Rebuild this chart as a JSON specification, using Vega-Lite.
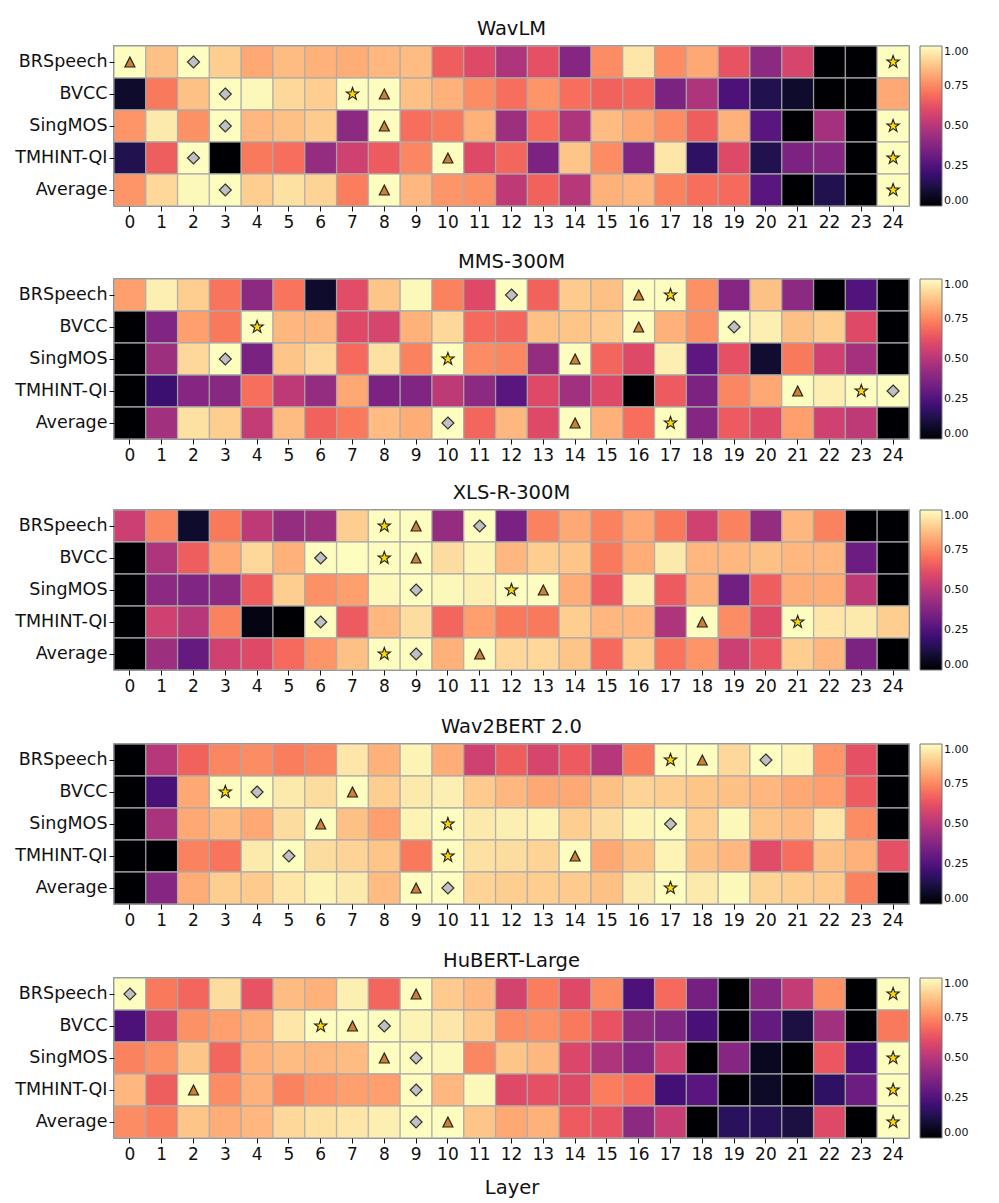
{"$schema":"https://vega.github.io/schema/vega-lite/v6.json","background":"white","padding":{"left":14,"top":18,"right":8,"bottom":2},"spacing":18,"resolve":{"scale":{"color":"independent"}},"config":{"font":"DejaVu Sans","view":{"stroke":"#555555","strokeWidth":1.5},"title":{"fontSize":19.5,"fontWeight":"normal","color":"#111111","offset":6},"axis":{"grid":false,"domain":false,"tickColor":"#111111","tickSize":5,"labelColor":"#111111","labelFontSize":17.5,"titleFontSize":19.5,"titleFontWeight":"normal","titleColor":"#111111"},"axisX":{"labelPadding":3,"labelFontSize":17},"axisY":{"labelPadding":2},"legend":{"gradientLength":160,"gradientThickness":22,"gradientStrokeColor":"#777777","gradientStrokeWidth":1,"labelFontSize":11,"labelColor":"#111111","labelBaseline":"middle","offset":11,"padding":0,"labelOffset":8}},
"datasets":{
"medals":[
{"model":"WavLM","metric":"BRSpeech","layer":0,"medal":"bronze"},{"model":"WavLM","metric":"BRSpeech","layer":2,"medal":"silver"},{"model":"WavLM","metric":"BRSpeech","layer":24,"medal":"gold"},
{"model":"WavLM","metric":"BVCC","layer":3,"medal":"silver"},{"model":"WavLM","metric":"BVCC","layer":7,"medal":"gold"},{"model":"WavLM","metric":"BVCC","layer":8,"medal":"bronze"},
{"model":"WavLM","metric":"SingMOS","layer":3,"medal":"silver"},{"model":"WavLM","metric":"SingMOS","layer":8,"medal":"bronze"},{"model":"WavLM","metric":"SingMOS","layer":24,"medal":"gold"},
{"model":"WavLM","metric":"TMHINT-QI","layer":2,"medal":"silver"},{"model":"WavLM","metric":"TMHINT-QI","layer":10,"medal":"bronze"},{"model":"WavLM","metric":"TMHINT-QI","layer":24,"medal":"gold"},
{"model":"WavLM","metric":"Average","layer":3,"medal":"silver"},{"model":"WavLM","metric":"Average","layer":8,"medal":"bronze"},{"model":"WavLM","metric":"Average","layer":24,"medal":"gold"},
{"model":"MMS-300M","metric":"BRSpeech","layer":12,"medal":"silver"},{"model":"MMS-300M","metric":"BRSpeech","layer":16,"medal":"bronze"},{"model":"MMS-300M","metric":"BRSpeech","layer":17,"medal":"gold"},
{"model":"MMS-300M","metric":"BVCC","layer":4,"medal":"gold"},{"model":"MMS-300M","metric":"BVCC","layer":16,"medal":"bronze"},{"model":"MMS-300M","metric":"BVCC","layer":19,"medal":"silver"},
{"model":"MMS-300M","metric":"SingMOS","layer":3,"medal":"silver"},{"model":"MMS-300M","metric":"SingMOS","layer":10,"medal":"gold"},{"model":"MMS-300M","metric":"SingMOS","layer":14,"medal":"bronze"},
{"model":"MMS-300M","metric":"TMHINT-QI","layer":21,"medal":"bronze"},{"model":"MMS-300M","metric":"TMHINT-QI","layer":23,"medal":"gold"},{"model":"MMS-300M","metric":"TMHINT-QI","layer":24,"medal":"silver"},
{"model":"MMS-300M","metric":"Average","layer":10,"medal":"silver"},{"model":"MMS-300M","metric":"Average","layer":14,"medal":"bronze"},{"model":"MMS-300M","metric":"Average","layer":17,"medal":"gold"},
{"model":"XLS-R-300M","metric":"BRSpeech","layer":8,"medal":"gold"},{"model":"XLS-R-300M","metric":"BRSpeech","layer":9,"medal":"bronze"},{"model":"XLS-R-300M","metric":"BRSpeech","layer":11,"medal":"silver"},
{"model":"XLS-R-300M","metric":"BVCC","layer":6,"medal":"silver"},{"model":"XLS-R-300M","metric":"BVCC","layer":8,"medal":"gold"},{"model":"XLS-R-300M","metric":"BVCC","layer":9,"medal":"bronze"},
{"model":"XLS-R-300M","metric":"SingMOS","layer":9,"medal":"silver"},{"model":"XLS-R-300M","metric":"SingMOS","layer":12,"medal":"gold"},{"model":"XLS-R-300M","metric":"SingMOS","layer":13,"medal":"bronze"},
{"model":"XLS-R-300M","metric":"TMHINT-QI","layer":6,"medal":"silver"},{"model":"XLS-R-300M","metric":"TMHINT-QI","layer":18,"medal":"bronze"},{"model":"XLS-R-300M","metric":"TMHINT-QI","layer":21,"medal":"gold"},
{"model":"XLS-R-300M","metric":"Average","layer":8,"medal":"gold"},{"model":"XLS-R-300M","metric":"Average","layer":9,"medal":"silver"},{"model":"XLS-R-300M","metric":"Average","layer":11,"medal":"bronze"},
{"model":"Wav2BERT 2.0","metric":"BRSpeech","layer":17,"medal":"gold"},{"model":"Wav2BERT 2.0","metric":"BRSpeech","layer":18,"medal":"bronze"},{"model":"Wav2BERT 2.0","metric":"BRSpeech","layer":20,"medal":"silver"},
{"model":"Wav2BERT 2.0","metric":"BVCC","layer":3,"medal":"gold"},{"model":"Wav2BERT 2.0","metric":"BVCC","layer":4,"medal":"silver"},{"model":"Wav2BERT 2.0","metric":"BVCC","layer":7,"medal":"bronze"},
{"model":"Wav2BERT 2.0","metric":"SingMOS","layer":6,"medal":"bronze"},{"model":"Wav2BERT 2.0","metric":"SingMOS","layer":10,"medal":"gold"},{"model":"Wav2BERT 2.0","metric":"SingMOS","layer":17,"medal":"silver"},
{"model":"Wav2BERT 2.0","metric":"TMHINT-QI","layer":5,"medal":"silver"},{"model":"Wav2BERT 2.0","metric":"TMHINT-QI","layer":10,"medal":"gold"},{"model":"Wav2BERT 2.0","metric":"TMHINT-QI","layer":14,"medal":"bronze"},
{"model":"Wav2BERT 2.0","metric":"Average","layer":9,"medal":"bronze"},{"model":"Wav2BERT 2.0","metric":"Average","layer":10,"medal":"silver"},{"model":"Wav2BERT 2.0","metric":"Average","layer":17,"medal":"gold"},
{"model":"HuBERT-Large","metric":"BRSpeech","layer":0,"medal":"silver"},{"model":"HuBERT-Large","metric":"BRSpeech","layer":9,"medal":"bronze"},{"model":"HuBERT-Large","metric":"BRSpeech","layer":24,"medal":"gold"},
{"model":"HuBERT-Large","metric":"BVCC","layer":6,"medal":"gold"},{"model":"HuBERT-Large","metric":"BVCC","layer":7,"medal":"bronze"},{"model":"HuBERT-Large","metric":"BVCC","layer":8,"medal":"silver"},
{"model":"HuBERT-Large","metric":"SingMOS","layer":8,"medal":"bronze"},{"model":"HuBERT-Large","metric":"SingMOS","layer":9,"medal":"silver"},{"model":"HuBERT-Large","metric":"SingMOS","layer":24,"medal":"gold"},
{"model":"HuBERT-Large","metric":"TMHINT-QI","layer":2,"medal":"bronze"},{"model":"HuBERT-Large","metric":"TMHINT-QI","layer":9,"medal":"silver"},{"model":"HuBERT-Large","metric":"TMHINT-QI","layer":24,"medal":"gold"},
{"model":"HuBERT-Large","metric":"Average","layer":9,"medal":"silver"},{"model":"HuBERT-Large","metric":"Average","layer":10,"medal":"bronze"},{"model":"HuBERT-Large","metric":"Average","layer":24,"medal":"gold"}
],
"wavlm":[
{"layer":0,"metric":"BRSpeech","score":1},{"layer":1,"metric":"BRSpeech","score":0.87},{"layer":2,"metric":"BRSpeech","score":1},{"layer":3,"metric":"BRSpeech","score":0.9},{"layer":4,"metric":"BRSpeech","score":0.82},{"layer":5,"metric":"BRSpeech","score":0.86},{"layer":6,"metric":"BRSpeech","score":0.84},{"layer":7,"metric":"BRSpeech","score":0.83},{"layer":8,"metric":"BRSpeech","score":0.85},{"layer":9,"metric":"BRSpeech","score":0.86},{"layer":10,"metric":"BRSpeech","score":0.66},{"layer":11,"metric":"BRSpeech","score":0.6},{"layer":12,"metric":"BRSpeech","score":0.48},{"layer":13,"metric":"BRSpeech","score":0.62},{"layer":14,"metric":"BRSpeech","score":0.38},{"layer":15,"metric":"BRSpeech","score":0.76},{"layer":16,"metric":"BRSpeech","score":0.95},{"layer":17,"metric":"BRSpeech","score":0.76},{"layer":18,"metric":"BRSpeech","score":0.82},{"layer":19,"metric":"BRSpeech","score":0.63},{"layer":20,"metric":"BRSpeech","score":0.4},{"layer":21,"metric":"BRSpeech","score":0.58},{"layer":22,"metric":"BRSpeech","score":0},{"layer":23,"metric":"BRSpeech","score":0},{"layer":24,"metric":"BRSpeech","score":1},
{"layer":0,"metric":"BVCC","score":0.08},{"layer":1,"metric":"BVCC","score":0.72},{"layer":2,"metric":"BVCC","score":0.87},{"layer":3,"metric":"BVCC","score":1},{"layer":4,"metric":"BVCC","score":0.99},{"layer":5,"metric":"BVCC","score":0.92},{"layer":6,"metric":"BVCC","score":0.9},{"layer":7,"metric":"BVCC","score":1},{"layer":8,"metric":"BVCC","score":1},{"layer":9,"metric":"BVCC","score":0.87},{"layer":10,"metric":"BVCC","score":0.84},{"layer":11,"metric":"BVCC","score":0.76},{"layer":12,"metric":"BVCC","score":0.7},{"layer":13,"metric":"BVCC","score":0.78},{"layer":14,"metric":"BVCC","score":0.7},{"layer":15,"metric":"BVCC","score":0.67},{"layer":16,"metric":"BVCC","score":0.68},{"layer":17,"metric":"BVCC","score":0.36},{"layer":18,"metric":"BVCC","score":0.48},{"layer":19,"metric":"BVCC","score":0.24},{"layer":20,"metric":"BVCC","score":0.14},{"layer":21,"metric":"BVCC","score":0.08},{"layer":22,"metric":"BVCC","score":0},{"layer":23,"metric":"BVCC","score":0},{"layer":24,"metric":"BVCC","score":0.82},
{"layer":0,"metric":"SingMOS","score":0.78},{"layer":1,"metric":"SingMOS","score":0.96},{"layer":2,"metric":"SingMOS","score":0.77},{"layer":3,"metric":"SingMOS","score":1},{"layer":4,"metric":"SingMOS","score":0.85},{"layer":5,"metric":"SingMOS","score":0.87},{"layer":6,"metric":"SingMOS","score":0.89},{"layer":7,"metric":"SingMOS","score":0.4},{"layer":8,"metric":"SingMOS","score":1},{"layer":9,"metric":"SingMOS","score":0.7},{"layer":10,"metric":"SingMOS","score":0.72},{"layer":11,"metric":"SingMOS","score":0.84},{"layer":12,"metric":"SingMOS","score":0.44},{"layer":13,"metric":"SingMOS","score":0.7},{"layer":14,"metric":"SingMOS","score":0.48},{"layer":15,"metric":"SingMOS","score":0.86},{"layer":16,"metric":"SingMOS","score":0.82},{"layer":17,"metric":"SingMOS","score":0.76},{"layer":18,"metric":"SingMOS","score":0.66},{"layer":19,"metric":"SingMOS","score":0.84},{"layer":20,"metric":"SingMOS","score":0.27},{"layer":21,"metric":"SingMOS","score":0},{"layer":22,"metric":"SingMOS","score":0.46},{"layer":23,"metric":"SingMOS","score":0},{"layer":24,"metric":"SingMOS","score":1},
{"layer":0,"metric":"TMHINT-QI","score":0.14},{"layer":1,"metric":"TMHINT-QI","score":0.66},{"layer":2,"metric":"TMHINT-QI","score":1},{"layer":3,"metric":"TMHINT-QI","score":0},{"layer":4,"metric":"TMHINT-QI","score":0.72},{"layer":5,"metric":"TMHINT-QI","score":0.7},{"layer":6,"metric":"TMHINT-QI","score":0.42},{"layer":7,"metric":"TMHINT-QI","score":0.56},{"layer":8,"metric":"TMHINT-QI","score":0.65},{"layer":9,"metric":"TMHINT-QI","score":0.75},{"layer":10,"metric":"TMHINT-QI","score":1},{"layer":11,"metric":"TMHINT-QI","score":0.6},{"layer":12,"metric":"TMHINT-QI","score":0.68},{"layer":13,"metric":"TMHINT-QI","score":0.36},{"layer":14,"metric":"TMHINT-QI","score":0.88},{"layer":15,"metric":"TMHINT-QI","score":0.76},{"layer":16,"metric":"TMHINT-QI","score":0.37},{"layer":17,"metric":"TMHINT-QI","score":0.95},{"layer":18,"metric":"TMHINT-QI","score":0.17},{"layer":19,"metric":"TMHINT-QI","score":0.6},{"layer":20,"metric":"TMHINT-QI","score":0.14},{"layer":21,"metric":"TMHINT-QI","score":0.36},{"layer":22,"metric":"TMHINT-QI","score":0.38},{"layer":23,"metric":"TMHINT-QI","score":0},{"layer":24,"metric":"TMHINT-QI","score":1},
{"layer":0,"metric":"Average","score":0.78},{"layer":1,"metric":"Average","score":0.92},{"layer":2,"metric":"Average","score":0.99},{"layer":3,"metric":"Average","score":1},{"layer":4,"metric":"Average","score":0.9},{"layer":5,"metric":"Average","score":0.94},{"layer":6,"metric":"Average","score":0.91},{"layer":7,"metric":"Average","score":0.73},{"layer":8,"metric":"Average","score":1},{"layer":9,"metric":"Average","score":0.85},{"layer":10,"metric":"Average","score":0.78},{"layer":11,"metric":"Average","score":0.77},{"layer":12,"metric":"Average","score":0.52},{"layer":13,"metric":"Average","score":0.67},{"layer":14,"metric":"Average","score":0.5},{"layer":15,"metric":"Average","score":0.84},{"layer":16,"metric":"Average","score":0.85},{"layer":17,"metric":"Average","score":0.74},{"layer":18,"metric":"Average","score":0.7},{"layer":19,"metric":"Average","score":0.69},{"layer":20,"metric":"Average","score":0.27},{"layer":21,"metric":"Average","score":0},{"layer":22,"metric":"Average","score":0.14},{"layer":23,"metric":"Average","score":0},{"layer":24,"metric":"Average","score":1}
],
"mms":[
{"layer":0,"metric":"BRSpeech","score":0.8},{"layer":1,"metric":"BRSpeech","score":0.97},{"layer":2,"metric":"BRSpeech","score":0.9},{"layer":3,"metric":"BRSpeech","score":0.71},{"layer":4,"metric":"BRSpeech","score":0.4},{"layer":5,"metric":"BRSpeech","score":0.71},{"layer":6,"metric":"BRSpeech","score":0.08},{"layer":7,"metric":"BRSpeech","score":0.61},{"layer":8,"metric":"BRSpeech","score":0.88},{"layer":9,"metric":"BRSpeech","score":0.99},{"layer":10,"metric":"BRSpeech","score":0.74},{"layer":11,"metric":"BRSpeech","score":0.6},{"layer":12,"metric":"BRSpeech","score":1},{"layer":13,"metric":"BRSpeech","score":0.67},{"layer":14,"metric":"BRSpeech","score":0.89},{"layer":15,"metric":"BRSpeech","score":0.87},{"layer":16,"metric":"BRSpeech","score":1},{"layer":17,"metric":"BRSpeech","score":1},{"layer":18,"metric":"BRSpeech","score":0.77},{"layer":19,"metric":"BRSpeech","score":0.38},{"layer":20,"metric":"BRSpeech","score":0.87},{"layer":21,"metric":"BRSpeech","score":0.4},{"layer":22,"metric":"BRSpeech","score":0},{"layer":23,"metric":"BRSpeech","score":0.25},{"layer":24,"metric":"BRSpeech","score":0},
{"layer":0,"metric":"BVCC","score":0},{"layer":1,"metric":"BVCC","score":0.37},{"layer":2,"metric":"BVCC","score":0.8},{"layer":3,"metric":"BVCC","score":0.72},{"layer":4,"metric":"BVCC","score":1},{"layer":5,"metric":"BVCC","score":0.85},{"layer":6,"metric":"BVCC","score":0.85},{"layer":7,"metric":"BVCC","score":0.6},{"layer":8,"metric":"BVCC","score":0.58},{"layer":9,"metric":"BVCC","score":0.84},{"layer":10,"metric":"BVCC","score":0.92},{"layer":11,"metric":"BVCC","score":0.69},{"layer":12,"metric":"BVCC","score":0.68},{"layer":13,"metric":"BVCC","score":0.87},{"layer":14,"metric":"BVCC","score":0.88},{"layer":15,"metric":"BVCC","score":0.89},{"layer":16,"metric":"BVCC","score":1},{"layer":17,"metric":"BVCC","score":0.84},{"layer":18,"metric":"BVCC","score":0.77},{"layer":19,"metric":"BVCC","score":1},{"layer":20,"metric":"BVCC","score":0.97},{"layer":21,"metric":"BVCC","score":0.87},{"layer":22,"metric":"BVCC","score":0.9},{"layer":23,"metric":"BVCC","score":0.6},{"layer":24,"metric":"BVCC","score":0},
{"layer":0,"metric":"SingMOS","score":0},{"layer":1,"metric":"SingMOS","score":0.44},{"layer":2,"metric":"SingMOS","score":0.92},{"layer":3,"metric":"SingMOS","score":1},{"layer":4,"metric":"SingMOS","score":0.35},{"layer":5,"metric":"SingMOS","score":0.88},{"layer":6,"metric":"SingMOS","score":0.92},{"layer":7,"metric":"SingMOS","score":0.69},{"layer":8,"metric":"SingMOS","score":0.94},{"layer":9,"metric":"SingMOS","score":0.74},{"layer":10,"metric":"SingMOS","score":1},{"layer":11,"metric":"SingMOS","score":0.76},{"layer":12,"metric":"SingMOS","score":0.75},{"layer":13,"metric":"SingMOS","score":0.42},{"layer":14,"metric":"SingMOS","score":1},{"layer":15,"metric":"SingMOS","score":0.68},{"layer":16,"metric":"SingMOS","score":0.6},{"layer":17,"metric":"SingMOS","score":0.97},{"layer":18,"metric":"SingMOS","score":0.28},{"layer":19,"metric":"SingMOS","score":0.62},{"layer":20,"metric":"SingMOS","score":0.09},{"layer":21,"metric":"SingMOS","score":0.72},{"layer":22,"metric":"SingMOS","score":0.56},{"layer":23,"metric":"SingMOS","score":0.46},{"layer":24,"metric":"SingMOS","score":0},
{"layer":0,"metric":"TMHINT-QI","score":0},{"layer":1,"metric":"TMHINT-QI","score":0.2},{"layer":2,"metric":"TMHINT-QI","score":0.38},{"layer":3,"metric":"TMHINT-QI","score":0.39},{"layer":4,"metric":"TMHINT-QI","score":0.7},{"layer":5,"metric":"TMHINT-QI","score":0.52},{"layer":6,"metric":"TMHINT-QI","score":0.42},{"layer":7,"metric":"TMHINT-QI","score":0.82},{"layer":8,"metric":"TMHINT-QI","score":0.36},{"layer":9,"metric":"TMHINT-QI","score":0.37},{"layer":10,"metric":"TMHINT-QI","score":0.52},{"layer":11,"metric":"TMHINT-QI","score":0.4},{"layer":12,"metric":"TMHINT-QI","score":0.27},{"layer":13,"metric":"TMHINT-QI","score":0.6},{"layer":14,"metric":"TMHINT-QI","score":0.45},{"layer":15,"metric":"TMHINT-QI","score":0.6},{"layer":16,"metric":"TMHINT-QI","score":0},{"layer":17,"metric":"TMHINT-QI","score":0.65},{"layer":18,"metric":"TMHINT-QI","score":0.36},{"layer":19,"metric":"TMHINT-QI","score":0.75},{"layer":20,"metric":"TMHINT-QI","score":0.82},{"layer":21,"metric":"TMHINT-QI","score":1},{"layer":22,"metric":"TMHINT-QI","score":0.97},{"layer":23,"metric":"TMHINT-QI","score":1},{"layer":24,"metric":"TMHINT-QI","score":1},
{"layer":0,"metric":"Average","score":0},{"layer":1,"metric":"Average","score":0.45},{"layer":2,"metric":"Average","score":0.94},{"layer":3,"metric":"Average","score":0.9},{"layer":4,"metric":"Average","score":0.53},{"layer":5,"metric":"Average","score":0.86},{"layer":6,"metric":"Average","score":0.67},{"layer":7,"metric":"Average","score":0.72},{"layer":8,"metric":"Average","score":0.86},{"layer":9,"metric":"Average","score":0.83},{"layer":10,"metric":"Average","score":1},{"layer":11,"metric":"Average","score":0.68},{"layer":12,"metric":"Average","score":0.85},{"layer":13,"metric":"Average","score":0.6},{"layer":14,"metric":"Average","score":1},{"layer":15,"metric":"Average","score":0.84},{"layer":16,"metric":"Average","score":0.7},{"layer":17,"metric":"Average","score":1},{"layer":18,"metric":"Average","score":0.38},{"layer":19,"metric":"Average","score":0.65},{"layer":20,"metric":"Average","score":0.6},{"layer":21,"metric":"Average","score":0.8},{"layer":22,"metric":"Average","score":0.56},{"layer":23,"metric":"Average","score":0.52},{"layer":24,"metric":"Average","score":0}
],
"xls":[
{"layer":0,"metric":"BRSpeech","score":0.55},{"layer":1,"metric":"BRSpeech","score":0.75},{"layer":2,"metric":"BRSpeech","score":0.08},{"layer":3,"metric":"BRSpeech","score":0.72},{"layer":4,"metric":"BRSpeech","score":0.52},{"layer":5,"metric":"BRSpeech","score":0.42},{"layer":6,"metric":"BRSpeech","score":0.44},{"layer":7,"metric":"BRSpeech","score":0.9},{"layer":8,"metric":"BRSpeech","score":1},{"layer":9,"metric":"BRSpeech","score":1},{"layer":10,"metric":"BRSpeech","score":0.42},{"layer":11,"metric":"BRSpeech","score":1},{"layer":12,"metric":"BRSpeech","score":0.35},{"layer":13,"metric":"BRSpeech","score":0.74},{"layer":14,"metric":"BRSpeech","score":0.82},{"layer":15,"metric":"BRSpeech","score":0.74},{"layer":16,"metric":"BRSpeech","score":0.82},{"layer":17,"metric":"BRSpeech","score":0.72},{"layer":18,"metric":"BRSpeech","score":0.56},{"layer":19,"metric":"BRSpeech","score":0.74},{"layer":20,"metric":"BRSpeech","score":0.42},{"layer":21,"metric":"BRSpeech","score":0.85},{"layer":22,"metric":"BRSpeech","score":0.74},{"layer":23,"metric":"BRSpeech","score":0},{"layer":24,"metric":"BRSpeech","score":0},
{"layer":0,"metric":"BVCC","score":0},{"layer":1,"metric":"BVCC","score":0.48},{"layer":2,"metric":"BVCC","score":0.66},{"layer":3,"metric":"BVCC","score":0.82},{"layer":4,"metric":"BVCC","score":0.92},{"layer":5,"metric":"BVCC","score":0.84},{"layer":6,"metric":"BVCC","score":1},{"layer":7,"metric":"BVCC","score":1},{"layer":8,"metric":"BVCC","score":1},{"layer":9,"metric":"BVCC","score":1},{"layer":10,"metric":"BVCC","score":0.93},{"layer":11,"metric":"BVCC","score":0.98},{"layer":12,"metric":"BVCC","score":0.85},{"layer":13,"metric":"BVCC","score":0.9},{"layer":14,"metric":"BVCC","score":0.88},{"layer":15,"metric":"BVCC","score":0.72},{"layer":16,"metric":"BVCC","score":0.83},{"layer":17,"metric":"BVCC","score":0.96},{"layer":18,"metric":"BVCC","score":0.85},{"layer":19,"metric":"BVCC","score":0.85},{"layer":20,"metric":"BVCC","score":0.87},{"layer":21,"metric":"BVCC","score":0.85},{"layer":22,"metric":"BVCC","score":0.85},{"layer":23,"metric":"BVCC","score":0.32},{"layer":24,"metric":"BVCC","score":0},
{"layer":0,"metric":"SingMOS","score":0},{"layer":1,"metric":"SingMOS","score":0.4},{"layer":2,"metric":"SingMOS","score":0.37},{"layer":3,"metric":"SingMOS","score":0.4},{"layer":4,"metric":"SingMOS","score":0.66},{"layer":5,"metric":"SingMOS","score":0.9},{"layer":6,"metric":"SingMOS","score":0.77},{"layer":7,"metric":"SingMOS","score":0.8},{"layer":8,"metric":"SingMOS","score":0.99},{"layer":9,"metric":"SingMOS","score":1},{"layer":10,"metric":"SingMOS","score":0.99},{"layer":11,"metric":"SingMOS","score":0.97},{"layer":12,"metric":"SingMOS","score":1},{"layer":13,"metric":"SingMOS","score":1},{"layer":14,"metric":"SingMOS","score":0.83},{"layer":15,"metric":"SingMOS","score":0.65},{"layer":16,"metric":"SingMOS","score":0.97},{"layer":17,"metric":"SingMOS","score":0.65},{"layer":18,"metric":"SingMOS","score":0.84},{"layer":19,"metric":"SingMOS","score":0.33},{"layer":20,"metric":"SingMOS","score":0.66},{"layer":21,"metric":"SingMOS","score":0.83},{"layer":22,"metric":"SingMOS","score":0.83},{"layer":23,"metric":"SingMOS","score":0.52},{"layer":24,"metric":"SingMOS","score":0},
{"layer":0,"metric":"TMHINT-QI","score":0},{"layer":1,"metric":"TMHINT-QI","score":0.56},{"layer":2,"metric":"TMHINT-QI","score":0.5},{"layer":3,"metric":"TMHINT-QI","score":0.74},{"layer":4,"metric":"TMHINT-QI","score":0.03},{"layer":5,"metric":"TMHINT-QI","score":0},{"layer":6,"metric":"TMHINT-QI","score":1},{"layer":7,"metric":"TMHINT-QI","score":0.65},{"layer":8,"metric":"TMHINT-QI","score":0.85},{"layer":9,"metric":"TMHINT-QI","score":0.93},{"layer":10,"metric":"TMHINT-QI","score":0.68},{"layer":11,"metric":"TMHINT-QI","score":0.8},{"layer":12,"metric":"TMHINT-QI","score":0.72},{"layer":13,"metric":"TMHINT-QI","score":0.72},{"layer":14,"metric":"TMHINT-QI","score":0.9},{"layer":15,"metric":"TMHINT-QI","score":0.85},{"layer":16,"metric":"TMHINT-QI","score":0.85},{"layer":17,"metric":"TMHINT-QI","score":0.48},{"layer":18,"metric":"TMHINT-QI","score":1},{"layer":19,"metric":"TMHINT-QI","score":0.76},{"layer":20,"metric":"TMHINT-QI","score":0.6},{"layer":21,"metric":"TMHINT-QI","score":1},{"layer":22,"metric":"TMHINT-QI","score":0.95},{"layer":23,"metric":"TMHINT-QI","score":0.96},{"layer":24,"metric":"TMHINT-QI","score":0.9},
{"layer":0,"metric":"Average","score":0},{"layer":1,"metric":"Average","score":0.44},{"layer":2,"metric":"Average","score":0.3},{"layer":3,"metric":"Average","score":0.56},{"layer":4,"metric":"Average","score":0.6},{"layer":5,"metric":"Average","score":0.69},{"layer":6,"metric":"Average","score":0.78},{"layer":7,"metric":"Average","score":0.87},{"layer":8,"metric":"Average","score":1},{"layer":9,"metric":"Average","score":1},{"layer":10,"metric":"Average","score":0.84},{"layer":11,"metric":"Average","score":1},{"layer":12,"metric":"Average","score":0.92},{"layer":13,"metric":"Average","score":0.92},{"layer":14,"metric":"Average","score":0.88},{"layer":15,"metric":"Average","score":0.69},{"layer":16,"metric":"Average","score":0.9},{"layer":17,"metric":"Average","score":0.71},{"layer":18,"metric":"Average","score":0.78},{"layer":19,"metric":"Average","score":0.55},{"layer":20,"metric":"Average","score":0.63},{"layer":21,"metric":"Average","score":0.9},{"layer":22,"metric":"Average","score":0.85},{"layer":23,"metric":"Average","score":0.36},{"layer":24,"metric":"Average","score":0}
],
"wav2bert":[
{"layer":0,"metric":"BRSpeech","score":0},{"layer":1,"metric":"BRSpeech","score":0.5},{"layer":2,"metric":"BRSpeech","score":0.67},{"layer":3,"metric":"BRSpeech","score":0.75},{"layer":4,"metric":"BRSpeech","score":0.76},{"layer":5,"metric":"BRSpeech","score":0.73},{"layer":6,"metric":"BRSpeech","score":0.75},{"layer":7,"metric":"BRSpeech","score":0.95},{"layer":8,"metric":"BRSpeech","score":0.84},{"layer":9,"metric":"BRSpeech","score":0.98},{"layer":10,"metric":"BRSpeech","score":0.83},{"layer":11,"metric":"BRSpeech","score":0.56},{"layer":12,"metric":"BRSpeech","score":0.66},{"layer":13,"metric":"BRSpeech","score":0.58},{"layer":14,"metric":"BRSpeech","score":0.65},{"layer":15,"metric":"BRSpeech","score":0.5},{"layer":16,"metric":"BRSpeech","score":0.72},{"layer":17,"metric":"BRSpeech","score":1},{"layer":18,"metric":"BRSpeech","score":1},{"layer":19,"metric":"BRSpeech","score":0.92},{"layer":20,"metric":"BRSpeech","score":1},{"layer":21,"metric":"BRSpeech","score":0.98},{"layer":22,"metric":"BRSpeech","score":0.78},{"layer":23,"metric":"BRSpeech","score":0.62},{"layer":24,"metric":"BRSpeech","score":0},
{"layer":0,"metric":"BVCC","score":0},{"layer":1,"metric":"BVCC","score":0.23},{"layer":2,"metric":"BVCC","score":0.82},{"layer":3,"metric":"BVCC","score":1},{"layer":4,"metric":"BVCC","score":1},{"layer":5,"metric":"BVCC","score":0.96},{"layer":6,"metric":"BVCC","score":0.93},{"layer":7,"metric":"BVCC","score":1},{"layer":8,"metric":"BVCC","score":0.9},{"layer":9,"metric":"BVCC","score":0.96},{"layer":10,"metric":"BVCC","score":0.97},{"layer":11,"metric":"BVCC","score":0.89},{"layer":12,"metric":"BVCC","score":0.85},{"layer":13,"metric":"BVCC","score":0.82},{"layer":14,"metric":"BVCC","score":0.82},{"layer":15,"metric":"BVCC","score":0.87},{"layer":16,"metric":"BVCC","score":0.91},{"layer":17,"metric":"BVCC","score":0.9},{"layer":18,"metric":"BVCC","score":0.88},{"layer":19,"metric":"BVCC","score":0.87},{"layer":20,"metric":"BVCC","score":0.85},{"layer":21,"metric":"BVCC","score":0.82},{"layer":22,"metric":"BVCC","score":0.8},{"layer":23,"metric":"BVCC","score":0.65},{"layer":24,"metric":"BVCC","score":0},
{"layer":0,"metric":"SingMOS","score":0},{"layer":1,"metric":"SingMOS","score":0.47},{"layer":2,"metric":"SingMOS","score":0.82},{"layer":3,"metric":"SingMOS","score":0.86},{"layer":4,"metric":"SingMOS","score":0.82},{"layer":5,"metric":"SingMOS","score":0.93},{"layer":6,"metric":"SingMOS","score":1},{"layer":7,"metric":"SingMOS","score":0.87},{"layer":8,"metric":"SingMOS","score":0.8},{"layer":9,"metric":"SingMOS","score":0.98},{"layer":10,"metric":"SingMOS","score":1},{"layer":11,"metric":"SingMOS","score":0.96},{"layer":12,"metric":"SingMOS","score":0.97},{"layer":13,"metric":"SingMOS","score":0.98},{"layer":14,"metric":"SingMOS","score":0.9},{"layer":15,"metric":"SingMOS","score":0.93},{"layer":16,"metric":"SingMOS","score":0.98},{"layer":17,"metric":"SingMOS","score":1},{"layer":18,"metric":"SingMOS","score":0.9},{"layer":19,"metric":"SingMOS","score":0.99},{"layer":20,"metric":"SingMOS","score":0.88},{"layer":21,"metric":"SingMOS","score":0.86},{"layer":22,"metric":"SingMOS","score":0.95},{"layer":23,"metric":"SingMOS","score":0.76},{"layer":24,"metric":"SingMOS","score":0},
{"layer":0,"metric":"TMHINT-QI","score":0},{"layer":1,"metric":"TMHINT-QI","score":0},{"layer":2,"metric":"TMHINT-QI","score":0.74},{"layer":3,"metric":"TMHINT-QI","score":0.71},{"layer":4,"metric":"TMHINT-QI","score":0.96},{"layer":5,"metric":"TMHINT-QI","score":1},{"layer":6,"metric":"TMHINT-QI","score":0.93},{"layer":7,"metric":"TMHINT-QI","score":0.91},{"layer":8,"metric":"TMHINT-QI","score":0.88},{"layer":9,"metric":"TMHINT-QI","score":0.72},{"layer":10,"metric":"TMHINT-QI","score":1},{"layer":11,"metric":"TMHINT-QI","score":0.94},{"layer":12,"metric":"TMHINT-QI","score":0.93},{"layer":13,"metric":"TMHINT-QI","score":0.91},{"layer":14,"metric":"TMHINT-QI","score":1},{"layer":15,"metric":"TMHINT-QI","score":0.82},{"layer":16,"metric":"TMHINT-QI","score":0.87},{"layer":17,"metric":"TMHINT-QI","score":0.98},{"layer":18,"metric":"TMHINT-QI","score":0.87},{"layer":19,"metric":"TMHINT-QI","score":0.85},{"layer":20,"metric":"TMHINT-QI","score":0.61},{"layer":21,"metric":"TMHINT-QI","score":0.7},{"layer":22,"metric":"TMHINT-QI","score":0.87},{"layer":23,"metric":"TMHINT-QI","score":0.84},{"layer":24,"metric":"TMHINT-QI","score":0.62},
{"layer":0,"metric":"Average","score":0},{"layer":1,"metric":"Average","score":0.38},{"layer":2,"metric":"Average","score":0.83},{"layer":3,"metric":"Average","score":0.9},{"layer":4,"metric":"Average","score":0.89},{"layer":5,"metric":"Average","score":0.95},{"layer":6,"metric":"Average","score":0.98},{"layer":7,"metric":"Average","score":0.96},{"layer":8,"metric":"Average","score":0.86},{"layer":9,"metric":"Average","score":1},{"layer":10,"metric":"Average","score":1},{"layer":11,"metric":"Average","score":0.91},{"layer":12,"metric":"Average","score":0.9},{"layer":13,"metric":"Average","score":0.9},{"layer":14,"metric":"Average","score":0.89},{"layer":15,"metric":"Average","score":0.87},{"layer":16,"metric":"Average","score":0.96},{"layer":17,"metric":"Average","score":1},{"layer":18,"metric":"Average","score":0.96},{"layer":19,"metric":"Average","score":0.99},{"layer":20,"metric":"Average","score":0.91},{"layer":21,"metric":"Average","score":0.9},{"layer":22,"metric":"Average","score":0.89},{"layer":23,"metric":"Average","score":0.74},{"layer":24,"metric":"Average","score":0}
],
"hubert":[
{"layer":0,"metric":"BRSpeech","score":1},{"layer":1,"metric":"BRSpeech","score":0.72},{"layer":2,"metric":"BRSpeech","score":0.68},{"layer":3,"metric":"BRSpeech","score":0.93},{"layer":4,"metric":"BRSpeech","score":0.63},{"layer":5,"metric":"BRSpeech","score":0.86},{"layer":6,"metric":"BRSpeech","score":0.84},{"layer":7,"metric":"BRSpeech","score":0.97},{"layer":8,"metric":"BRSpeech","score":0.68},{"layer":9,"metric":"BRSpeech","score":1},{"layer":10,"metric":"BRSpeech","score":0.89},{"layer":11,"metric":"BRSpeech","score":0.85},{"layer":12,"metric":"BRSpeech","score":0.57},{"layer":13,"metric":"BRSpeech","score":0.73},{"layer":14,"metric":"BRSpeech","score":0.6},{"layer":15,"metric":"BRSpeech","score":0.76},{"layer":16,"metric":"BRSpeech","score":0.24},{"layer":17,"metric":"BRSpeech","score":0.69},{"layer":18,"metric":"BRSpeech","score":0.34},{"layer":19,"metric":"BRSpeech","score":0},{"layer":20,"metric":"BRSpeech","score":0.38},{"layer":21,"metric":"BRSpeech","score":0.53},{"layer":22,"metric":"BRSpeech","score":0.77},{"layer":23,"metric":"BRSpeech","score":0},{"layer":24,"metric":"BRSpeech","score":1},
{"layer":0,"metric":"BVCC","score":0.24},{"layer":1,"metric":"BVCC","score":0.57},{"layer":2,"metric":"BVCC","score":0.77},{"layer":3,"metric":"BVCC","score":0.8},{"layer":4,"metric":"BVCC","score":0.83},{"layer":5,"metric":"BVCC","score":0.95},{"layer":6,"metric":"BVCC","score":1},{"layer":7,"metric":"BVCC","score":1},{"layer":8,"metric":"BVCC","score":1},{"layer":9,"metric":"BVCC","score":0.98},{"layer":10,"metric":"BVCC","score":0.95},{"layer":11,"metric":"BVCC","score":0.89},{"layer":12,"metric":"BVCC","score":0.76},{"layer":13,"metric":"BVCC","score":0.77},{"layer":14,"metric":"BVCC","score":0.72},{"layer":15,"metric":"BVCC","score":0.63},{"layer":16,"metric":"BVCC","score":0.4},{"layer":17,"metric":"BVCC","score":0.37},{"layer":18,"metric":"BVCC","score":0.23},{"layer":19,"metric":"BVCC","score":0},{"layer":20,"metric":"BVCC","score":0.3},{"layer":21,"metric":"BVCC","score":0.12},{"layer":22,"metric":"BVCC","score":0.45},{"layer":23,"metric":"BVCC","score":0},{"layer":24,"metric":"BVCC","score":0.72},
{"layer":0,"metric":"SingMOS","score":0.74},{"layer":1,"metric":"SingMOS","score":0.77},{"layer":2,"metric":"SingMOS","score":0.88},{"layer":3,"metric":"SingMOS","score":0.68},{"layer":4,"metric":"SingMOS","score":0.84},{"layer":5,"metric":"SingMOS","score":0.86},{"layer":6,"metric":"SingMOS","score":0.85},{"layer":7,"metric":"SingMOS","score":0.86},{"layer":8,"metric":"SingMOS","score":1},{"layer":9,"metric":"SingMOS","score":1},{"layer":10,"metric":"SingMOS","score":0.99},{"layer":11,"metric":"SingMOS","score":0.75},{"layer":12,"metric":"SingMOS","score":0.88},{"layer":13,"metric":"SingMOS","score":0.85},{"layer":14,"metric":"SingMOS","score":0.59},{"layer":15,"metric":"SingMOS","score":0.48},{"layer":16,"metric":"SingMOS","score":0.38},{"layer":17,"metric":"SingMOS","score":0.56},{"layer":18,"metric":"SingMOS","score":0},{"layer":19,"metric":"SingMOS","score":0.38},{"layer":20,"metric":"SingMOS","score":0.06},{"layer":21,"metric":"SingMOS","score":0},{"layer":22,"metric":"SingMOS","score":0.64},{"layer":23,"metric":"SingMOS","score":0.23},{"layer":24,"metric":"SingMOS","score":1},
{"layer":0,"metric":"TMHINT-QI","score":0.85},{"layer":1,"metric":"TMHINT-QI","score":0.66},{"layer":2,"metric":"TMHINT-QI","score":1},{"layer":3,"metric":"TMHINT-QI","score":0.76},{"layer":4,"metric":"TMHINT-QI","score":0.84},{"layer":5,"metric":"TMHINT-QI","score":0.74},{"layer":6,"metric":"TMHINT-QI","score":0.78},{"layer":7,"metric":"TMHINT-QI","score":0.8},{"layer":8,"metric":"TMHINT-QI","score":0.8},{"layer":9,"metric":"TMHINT-QI","score":1},{"layer":10,"metric":"TMHINT-QI","score":0.85},{"layer":11,"metric":"TMHINT-QI","score":0.99},{"layer":12,"metric":"TMHINT-QI","score":0.6},{"layer":13,"metric":"TMHINT-QI","score":0.62},{"layer":14,"metric":"TMHINT-QI","score":0.6},{"layer":15,"metric":"TMHINT-QI","score":0.73},{"layer":16,"metric":"TMHINT-QI","score":0.7},{"layer":17,"metric":"TMHINT-QI","score":0.22},{"layer":18,"metric":"TMHINT-QI","score":0.27},{"layer":19,"metric":"TMHINT-QI","score":0},{"layer":20,"metric":"TMHINT-QI","score":0.07},{"layer":21,"metric":"TMHINT-QI","score":0},{"layer":22,"metric":"TMHINT-QI","score":0.17},{"layer":23,"metric":"TMHINT-QI","score":0.32},{"layer":24,"metric":"TMHINT-QI","score":1},
{"layer":0,"metric":"Average","score":0.76},{"layer":1,"metric":"Average","score":0.73},{"layer":2,"metric":"Average","score":0.88},{"layer":3,"metric":"Average","score":0.83},{"layer":4,"metric":"Average","score":0.85},{"layer":5,"metric":"Average","score":0.92},{"layer":6,"metric":"Average","score":0.94},{"layer":7,"metric":"Average","score":0.95},{"layer":8,"metric":"Average","score":0.97},{"layer":9,"metric":"Average","score":1},{"layer":10,"metric":"Average","score":1},{"layer":11,"metric":"Average","score":0.88},{"layer":12,"metric":"Average","score":0.82},{"layer":13,"metric":"Average","score":0.84},{"layer":14,"metric":"Average","score":0.65},{"layer":15,"metric":"Average","score":0.63},{"layer":16,"metric":"Average","score":0.4},{"layer":17,"metric":"Average","score":0.54},{"layer":18,"metric":"Average","score":0},{"layer":19,"metric":"Average","score":0.16},{"layer":20,"metric":"Average","score":0.15},{"layer":21,"metric":"Average","score":0.12},{"layer":22,"metric":"Average","score":0.6},{"layer":23,"metric":"Average","score":0},{"layer":24,"metric":"Average","score":1}
]
},
"vconcat":[
{"spacing":20,"resolve":{"scale":{"color":"independent"}},"vconcat":[
{"title":"WavLM","width":795,"height":160,"layer":[
{"data":{"name":"wavlm"},"mark":{"type":"rect","stroke":"#aaaaaa","strokeOpacity":0.8,"strokeWidth":1.3},"encoding":{"x":{"field":"layer","type":"ordinal","scale":{"type":"band","paddingInner":0,"paddingOuter":0},"axis":{"labelAngle":0,"title":null}},"y":{"field":"metric","type":"ordinal","sort":["BRSpeech","BVCC","SingMOS","TMHINT-QI","Average"],"scale":{"type":"band","paddingInner":0,"paddingOuter":0},"axis":{"title":null}},"color":{"field":"score","type":"quantitative","scale":{"scheme":"magma","domain":[0,1]},"legend":{"title":null,"values":[0,0.25,0.5,0.75,1],"format":".2f"}}}},
{"data":{"name":"medals"},"transform":[{"filter":"datum.model === 'WavLM' && datum.medal === 'bronze'"}],"mark":{"type":"point","shape":"M0,-1L1,1L-1,1Z","size":100,"filled":true,"fill":"#cd7f32","stroke":"#222222","strokeWidth":1.2,"opacity":1},"encoding":{"x":{"field":"layer","type":"ordinal"},"y":{"field":"metric","type":"ordinal","sort":["BRSpeech","BVCC","SingMOS","TMHINT-QI","Average"]}}},
{"data":{"name":"medals"},"transform":[{"filter":"datum.model === 'WavLM' && datum.medal === 'silver'"}],"mark":{"type":"point","shape":"M0,-1L1,0L0,1L-1,0Z","size":144,"filled":true,"fill":"#c0c0c0","stroke":"#333333","strokeWidth":1.2,"opacity":1},"encoding":{"x":{"field":"layer","type":"ordinal"},"y":{"field":"metric","type":"ordinal","sort":["BRSpeech","BVCC","SingMOS","TMHINT-QI","Average"]}}},
{"data":{"name":"medals"},"transform":[{"filter":"datum.model === 'WavLM' && datum.medal === 'gold'"}],"mark":{"type":"point","shape":"M0,-1L0.24,-0.33L0.95,-0.31L0.38,0.12L0.59,0.81L0,0.4L-0.59,0.81L-0.38,0.12L-0.95,-0.31L-0.24,-0.33Z","size":170,"filled":true,"fill":"#ffd700","stroke":"#222222","strokeWidth":1.1,"opacity":1},"encoding":{"x":{"field":"layer","type":"ordinal"},"y":{"field":"metric","type":"ordinal","sort":["BRSpeech","BVCC","SingMOS","TMHINT-QI","Average"]}}}
]},
{"title":"MMS-300M","width":795,"height":160,"layer":[
{"data":{"name":"mms"},"mark":{"type":"rect","stroke":"#aaaaaa","strokeOpacity":0.8,"strokeWidth":1.3},"encoding":{"x":{"field":"layer","type":"ordinal","scale":{"type":"band","paddingInner":0,"paddingOuter":0},"axis":{"labelAngle":0,"title":null}},"y":{"field":"metric","type":"ordinal","sort":["BRSpeech","BVCC","SingMOS","TMHINT-QI","Average"],"scale":{"type":"band","paddingInner":0,"paddingOuter":0},"axis":{"title":null}},"color":{"field":"score","type":"quantitative","scale":{"scheme":"magma","domain":[0,1]},"legend":{"title":null,"values":[0,0.25,0.5,0.75,1],"format":".2f"}}}},
{"data":{"name":"medals"},"transform":[{"filter":"datum.model === 'MMS-300M' && datum.medal === 'bronze'"}],"mark":{"type":"point","shape":"M0,-1L1,1L-1,1Z","size":100,"filled":true,"fill":"#cd7f32","stroke":"#222222","strokeWidth":1.2,"opacity":1},"encoding":{"x":{"field":"layer","type":"ordinal"},"y":{"field":"metric","type":"ordinal","sort":["BRSpeech","BVCC","SingMOS","TMHINT-QI","Average"]}}},
{"data":{"name":"medals"},"transform":[{"filter":"datum.model === 'MMS-300M' && datum.medal === 'silver'"}],"mark":{"type":"point","shape":"M0,-1L1,0L0,1L-1,0Z","size":144,"filled":true,"fill":"#c0c0c0","stroke":"#333333","strokeWidth":1.2,"opacity":1},"encoding":{"x":{"field":"layer","type":"ordinal"},"y":{"field":"metric","type":"ordinal","sort":["BRSpeech","BVCC","SingMOS","TMHINT-QI","Average"]}}},
{"data":{"name":"medals"},"transform":[{"filter":"datum.model === 'MMS-300M' && datum.medal === 'gold'"}],"mark":{"type":"point","shape":"M0,-1L0.24,-0.33L0.95,-0.31L0.38,0.12L0.59,0.81L0,0.4L-0.59,0.81L-0.38,0.12L-0.95,-0.31L-0.24,-0.33Z","size":170,"filled":true,"fill":"#ffd700","stroke":"#222222","strokeWidth":1.1,"opacity":1},"encoding":{"x":{"field":"layer","type":"ordinal"},"y":{"field":"metric","type":"ordinal","sort":["BRSpeech","BVCC","SingMOS","TMHINT-QI","Average"]}}}
]}
]},
{"spacing":21,"resolve":{"scale":{"color":"independent"}},"vconcat":[
{"title":"XLS-R-300M","width":795,"height":160,"layer":[
{"data":{"name":"xls"},"mark":{"type":"rect","stroke":"#aaaaaa","strokeOpacity":0.8,"strokeWidth":1.3},"encoding":{"x":{"field":"layer","type":"ordinal","scale":{"type":"band","paddingInner":0,"paddingOuter":0},"axis":{"labelAngle":0,"title":null}},"y":{"field":"metric","type":"ordinal","sort":["BRSpeech","BVCC","SingMOS","TMHINT-QI","Average"],"scale":{"type":"band","paddingInner":0,"paddingOuter":0},"axis":{"title":null}},"color":{"field":"score","type":"quantitative","scale":{"scheme":"magma","domain":[0,1]},"legend":{"title":null,"values":[0,0.25,0.5,0.75,1],"format":".2f"}}}},
{"data":{"name":"medals"},"transform":[{"filter":"datum.model === 'XLS-R-300M' && datum.medal === 'bronze'"}],"mark":{"type":"point","shape":"M0,-1L1,1L-1,1Z","size":100,"filled":true,"fill":"#cd7f32","stroke":"#222222","strokeWidth":1.2,"opacity":1},"encoding":{"x":{"field":"layer","type":"ordinal"},"y":{"field":"metric","type":"ordinal","sort":["BRSpeech","BVCC","SingMOS","TMHINT-QI","Average"]}}},
{"data":{"name":"medals"},"transform":[{"filter":"datum.model === 'XLS-R-300M' && datum.medal === 'silver'"}],"mark":{"type":"point","shape":"M0,-1L1,0L0,1L-1,0Z","size":144,"filled":true,"fill":"#c0c0c0","stroke":"#333333","strokeWidth":1.2,"opacity":1},"encoding":{"x":{"field":"layer","type":"ordinal"},"y":{"field":"metric","type":"ordinal","sort":["BRSpeech","BVCC","SingMOS","TMHINT-QI","Average"]}}},
{"data":{"name":"medals"},"transform":[{"filter":"datum.model === 'XLS-R-300M' && datum.medal === 'gold'"}],"mark":{"type":"point","shape":"M0,-1L0.24,-0.33L0.95,-0.31L0.38,0.12L0.59,0.81L0,0.4L-0.59,0.81L-0.38,0.12L-0.95,-0.31L-0.24,-0.33Z","size":170,"filled":true,"fill":"#ffd700","stroke":"#222222","strokeWidth":1.1,"opacity":1},"encoding":{"x":{"field":"layer","type":"ordinal"},"y":{"field":"metric","type":"ordinal","sort":["BRSpeech","BVCC","SingMOS","TMHINT-QI","Average"]}}}
]},
{"title":"Wav2BERT 2.0","width":795,"height":160,"layer":[
{"data":{"name":"wav2bert"},"mark":{"type":"rect","stroke":"#aaaaaa","strokeOpacity":0.8,"strokeWidth":1.3},"encoding":{"x":{"field":"layer","type":"ordinal","scale":{"type":"band","paddingInner":0,"paddingOuter":0},"axis":{"labelAngle":0,"title":null}},"y":{"field":"metric","type":"ordinal","sort":["BRSpeech","BVCC","SingMOS","TMHINT-QI","Average"],"scale":{"type":"band","paddingInner":0,"paddingOuter":0},"axis":{"title":null}},"color":{"field":"score","type":"quantitative","scale":{"scheme":"magma","domain":[0,1]},"legend":{"title":null,"values":[0,0.25,0.5,0.75,1],"format":".2f"}}}},
{"data":{"name":"medals"},"transform":[{"filter":"datum.model === 'Wav2BERT 2.0' && datum.medal === 'bronze'"}],"mark":{"type":"point","shape":"M0,-1L1,1L-1,1Z","size":100,"filled":true,"fill":"#cd7f32","stroke":"#222222","strokeWidth":1.2,"opacity":1},"encoding":{"x":{"field":"layer","type":"ordinal"},"y":{"field":"metric","type":"ordinal","sort":["BRSpeech","BVCC","SingMOS","TMHINT-QI","Average"]}}},
{"data":{"name":"medals"},"transform":[{"filter":"datum.model === 'Wav2BERT 2.0' && datum.medal === 'silver'"}],"mark":{"type":"point","shape":"M0,-1L1,0L0,1L-1,0Z","size":144,"filled":true,"fill":"#c0c0c0","stroke":"#333333","strokeWidth":1.2,"opacity":1},"encoding":{"x":{"field":"layer","type":"ordinal"},"y":{"field":"metric","type":"ordinal","sort":["BRSpeech","BVCC","SingMOS","TMHINT-QI","Average"]}}},
{"data":{"name":"medals"},"transform":[{"filter":"datum.model === 'Wav2BERT 2.0' && datum.medal === 'gold'"}],"mark":{"type":"point","shape":"M0,-1L0.24,-0.33L0.95,-0.31L0.38,0.12L0.59,0.81L0,0.4L-0.59,0.81L-0.38,0.12L-0.95,-0.31L-0.24,-0.33Z","size":170,"filled":true,"fill":"#ffd700","stroke":"#222222","strokeWidth":1.1,"opacity":1},"encoding":{"x":{"field":"layer","type":"ordinal"},"y":{"field":"metric","type":"ordinal","sort":["BRSpeech","BVCC","SingMOS","TMHINT-QI","Average"]}}}
]},
{"title":"HuBERT-Large","width":795,"height":160,"layer":[
{"data":{"name":"hubert"},"mark":{"type":"rect","stroke":"#aaaaaa","strokeOpacity":0.8,"strokeWidth":1.3},"encoding":{"x":{"field":"layer","type":"ordinal","scale":{"type":"band","paddingInner":0,"paddingOuter":0},"axis":{"labelAngle":0,"title":"Layer","titlePadding":16}},"y":{"field":"metric","type":"ordinal","sort":["BRSpeech","BVCC","SingMOS","TMHINT-QI","Average"],"scale":{"type":"band","paddingInner":0,"paddingOuter":0},"axis":{"title":null}},"color":{"field":"score","type":"quantitative","scale":{"scheme":"magma","domain":[0,1]},"legend":{"title":null,"values":[0,0.25,0.5,0.75,1],"format":".2f"}}}},
{"data":{"name":"medals"},"transform":[{"filter":"datum.model === 'HuBERT-Large' && datum.medal === 'bronze'"}],"mark":{"type":"point","shape":"M0,-1L1,1L-1,1Z","size":100,"filled":true,"fill":"#cd7f32","stroke":"#222222","strokeWidth":1.2,"opacity":1},"encoding":{"x":{"field":"layer","type":"ordinal"},"y":{"field":"metric","type":"ordinal","sort":["BRSpeech","BVCC","SingMOS","TMHINT-QI","Average"]}}},
{"data":{"name":"medals"},"transform":[{"filter":"datum.model === 'HuBERT-Large' && datum.medal === 'silver'"}],"mark":{"type":"point","shape":"M0,-1L1,0L0,1L-1,0Z","size":144,"filled":true,"fill":"#c0c0c0","stroke":"#333333","strokeWidth":1.2,"opacity":1},"encoding":{"x":{"field":"layer","type":"ordinal"},"y":{"field":"metric","type":"ordinal","sort":["BRSpeech","BVCC","SingMOS","TMHINT-QI","Average"]}}},
{"data":{"name":"medals"},"transform":[{"filter":"datum.model === 'HuBERT-Large' && datum.medal === 'gold'"}],"mark":{"type":"point","shape":"M0,-1L0.24,-0.33L0.95,-0.31L0.38,0.12L0.59,0.81L0,0.4L-0.59,0.81L-0.38,0.12L-0.95,-0.31L-0.24,-0.33Z","size":170,"filled":true,"fill":"#ffd700","stroke":"#222222","strokeWidth":1.1,"opacity":1},"encoding":{"x":{"field":"layer","type":"ordinal"},"y":{"field":"metric","type":"ordinal","sort":["BRSpeech","BVCC","SingMOS","TMHINT-QI","Average"]}}}
]}
]}
]}
